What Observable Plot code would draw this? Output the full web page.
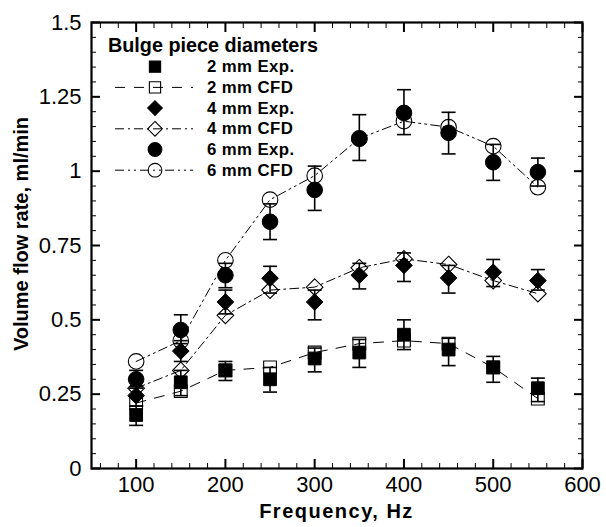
<!DOCTYPE html>
<html><head><meta charset="utf-8">
<script src="https://cdn.jsdelivr.net/npm/d3@7"></script>
<script src="https://cdn.jsdelivr.net/npm/@observablehq/plot@0.6"></script>
<style>
body{margin:0;background:#fff;}
#chart{width:606px;height:527px;}
svg text{font-family:"Liberation Sans",Arial,sans-serif;}
</style>
</head><body><div id="chart"></div>
<script>
// ---- data ----
const freq = [100,150,200,250,300,350,400,450,500,550];

const exp2   = [0.18,0.29,0.33,0.30,0.37,0.39,0.45,0.40,0.34,0.27];
const exp2Lo = [0.145,0.245,0.296,0.257,0.325,0.34,0.40,0.346,0.29,0.225];
const exp2Hi = [0.21,0.33,0.36,0.34,0.405,0.434,0.50,0.438,0.377,0.304];
const cfd2   = [0.22,0.26,0.33,0.34,0.39,0.42,0.43,0.42,0.34,0.235];

const exp4   = [0.245,0.395,0.56,0.64,0.56,0.65,0.683,0.641,0.66,0.632];
const exp4Lo = [0.21,0.36,0.52,0.59,0.50,0.604,0.629,0.59,0.612,0.60];
const exp4Hi = [0.275,0.43,0.60,0.68,0.60,0.69,0.725,0.683,0.703,0.669];
const cfd4   = [0.27,0.33,0.515,0.60,0.61,0.675,0.705,0.686,0.632,0.588];

const exp6   = [0.30,0.466,0.65,0.83,0.937,1.109,1.196,1.129,1.03,0.997];
const exp6Lo = [0.27,0.42,0.608,0.77,0.868,1.036,1.123,1.058,0.969,0.95];
const exp6Hi = [0.33,0.517,0.69,0.89,1.017,1.19,1.274,1.198,1.09,1.044];
const cfd6   = [0.36,0.43,0.70,0.904,0.985,1.11,1.168,1.148,1.084,0.946];

const xTicks = [100,200,300,400,500,600];
const xTickLabels = ["100","200","300","400","500","600"];
const yTicks = [0,0.25,0.5,0.75,1,1.25,1.5];
const yTickLabels = ["0","0.25","0.5","0.75","1","1.25","1.5"];
const xMinor = d3.range(60, 600, 20).filter(v => v % 100 !== 0);
const yMinor = d3.range(0.05, 1.5, 0.05).filter(v => Math.abs(v/0.25 - Math.round(v/0.25)) > 1e-6);

const legendTitle = "Bulge piece diameters";
const xTitle = "Frequency, Hz";
const yTitle = "Volume flow rate, ml/min";

// ---- series definitions ----
const expSeries = [
  {name:"2 mm Exp.", symbol:"square",  r:7.2, v:exp2, lo:exp2Lo, hi:exp2Hi},
  {name:"4 mm Exp.", symbol:"diamond2",r:7.5, v:exp4, lo:exp4Lo, hi:exp4Hi},
  {name:"6 mm Exp.", symbol:"circle",  r:7.8, v:exp6, lo:exp6Lo, hi:exp6Hi}
];
const cfdSeries = [
  {name:"2 mm CFD", symbol:"square",  r:7.2, v:cfd2, dash:"10,9"},
  {name:"4 mm CFD", symbol:"diamond2",r:7.5, v:cfd4, dash:"9,4,2,4"},
  {name:"6 mm CFD", symbol:"circle",  r:7.8, v:cfd6, dash:"9,4,2,4,2,4"}
];
const legendOrder = [expSeries[0], cfdSeries[0], expSeries[1], cfdSeries[1], expSeries[2], cfdSeries[2]];

const rowsOf = s => freq.map((f,i) => ({f, v:s.v[i], lo:s.lo ? s.lo[i] : null, hi:s.hi ? s.hi[i] : null}));

const capSymbol = {draw(ctx, size){ const r = Math.sqrt(size/Math.PI); ctx.moveTo(-r,0); ctx.lineTo(r,0); }};

const xLab = new Map(xTicks.map((t,i)=>[t,xTickLabels[i]]));
const yLab = new Map(yTicks.map((t,i)=>[t,yTickLabels[i]]));

const marks = [];
for (const s of cfdSeries) marks.push(Plot.dot(rowsOf(s), {x:"f", y:"v", symbol:s.symbol, r:s.r, fill:"white", stroke:"black", strokeWidth:1.1}));
for (const s of expSeries) marks.push(Plot.dot(rowsOf(s), {x:"f", y:"v", symbol:s.symbol, r:s.r, fill:"black", stroke:"black", strokeWidth:1}));
for (const s of cfdSeries) marks.push(Plot.line(rowsOf(s), {x:"f", y:"v", stroke:"black", strokeWidth:1, strokeDasharray:s.dash}));
for (const s of expSeries) {
  const rows = rowsOf(s);
  marks.push(Plot.ruleX(rows, {x:"f", y1:"lo", y2:"hi", stroke:"black", strokeWidth:1.6}));
  marks.push(Plot.dot(rows, {x:"f", y:"lo", symbol:capSymbol, r:7, fill:"none", stroke:"black", strokeWidth:1.6}));
  marks.push(Plot.dot(rows, {x:"f", y:"hi", symbol:capSymbol, r:7, fill:"none", stroke:"black", strokeWidth:1.6}));
}
const axStyle = {stroke:"black"};
marks.push(
  Plot.axisY(yTicks, {anchor:"left", tickSize:-9, tickPadding:19, tickFormat:d=>yLab.get(d), label:null, ...axStyle, strokeWidth:2}),
  Plot.axisY(yMinor, {anchor:"left", tickSize:-5, tickFormat:()=>"", label:null, ...axStyle, strokeWidth:1}),
  Plot.axisY(yTicks, {anchor:"right", tickSize:-9, tickFormat:()=>"", label:null, ...axStyle, strokeWidth:2}),
  Plot.axisY(yMinor, {anchor:"right", tickSize:-5, tickFormat:()=>"", label:null, ...axStyle, strokeWidth:1}),
  Plot.axisX(xTicks, {anchor:"bottom", tickSize:-9, tickPadding:17, tickFormat:d=>xLab.get(d), label:null, ...axStyle, strokeWidth:2}),
  Plot.axisX(xMinor, {anchor:"bottom", tickSize:-5, tickFormat:()=>"", label:null, ...axStyle, strokeWidth:1}),
  Plot.axisX(xTicks, {anchor:"top", tickSize:-9, tickFormat:()=>"", label:null, ...axStyle, strokeWidth:2}),
  Plot.axisX(xMinor, {anchor:"top", tickSize:-5, tickFormat:()=>"", label:null, ...axStyle, strokeWidth:1}),
  Plot.frame({stroke:"black", strokeWidth:2.2})
);

const plot = Plot.plot({
  width:606, height:527,
  marginLeft:91, marginRight:24, marginTop:22, marginBottom:59,
  style:{fontFamily:'"Liberation Sans", Arial, sans-serif', fontSize:"22px", color:"black", background:"white"},
  x:{domain:[50,600]},
  y:{domain:[0,1.5]},
  marks
});
document.getElementById("chart").appendChild(plot);

// ---- titles and legend ----
const svg = d3.select(plot);
svg.append("text").attr("x",336.5).attr("y",518).attr("text-anchor","middle")
  .attr("font-weight","bold").attr("font-size",20).attr("letter-spacing","1.5px").attr("fill","black").text(xTitle);
svg.append("text").attr("transform","translate(28,234) rotate(-90)").attr("text-anchor","middle")
  .attr("font-weight","bold").attr("font-size",20).attr("fill","black").text(yTitle);

const lg = svg.append("g").attr("text-anchor","start");
lg.append("text").attr("x",108).attr("y",52).attr("text-anchor","start").attr("font-weight","bold").attr("font-size",19.8).attr("fill","black").text(legendTitle);
const d3sym = {square:d3.symbolSquare, diamond2:d3.symbolDiamond2, circle:d3.symbolCircle};
legendOrder.forEach((s,i) => {
  const base = 72.3 + i*20.7, cy = base - 5.6;
  const isCfd = !!s.dash;
  lg.append("path").attr("transform",`translate(155,${cy})`)
    .attr("d", d3.symbol(d3sym[s.symbol], Math.PI*(s.r*0.88)*(s.r*0.88))())
    .attr("fill", isCfd ? "white" : "black").attr("stroke","black").attr("stroke-width",1.1);
  if (isCfd) lg.append("line").attr("x1",115).attr("x2",193).attr("y1",cy).attr("y2",cy)
    .attr("stroke","black").attr("stroke-width",1).attr("stroke-dasharray",s.dash);
  lg.append("text").attr("x",207).attr("y",base).attr("text-anchor","start").attr("font-weight","bold").attr("font-size",16.8)
    .attr("letter-spacing","0.4px").attr("fill","black").text(s.name);
});
</script>
</body></html>
